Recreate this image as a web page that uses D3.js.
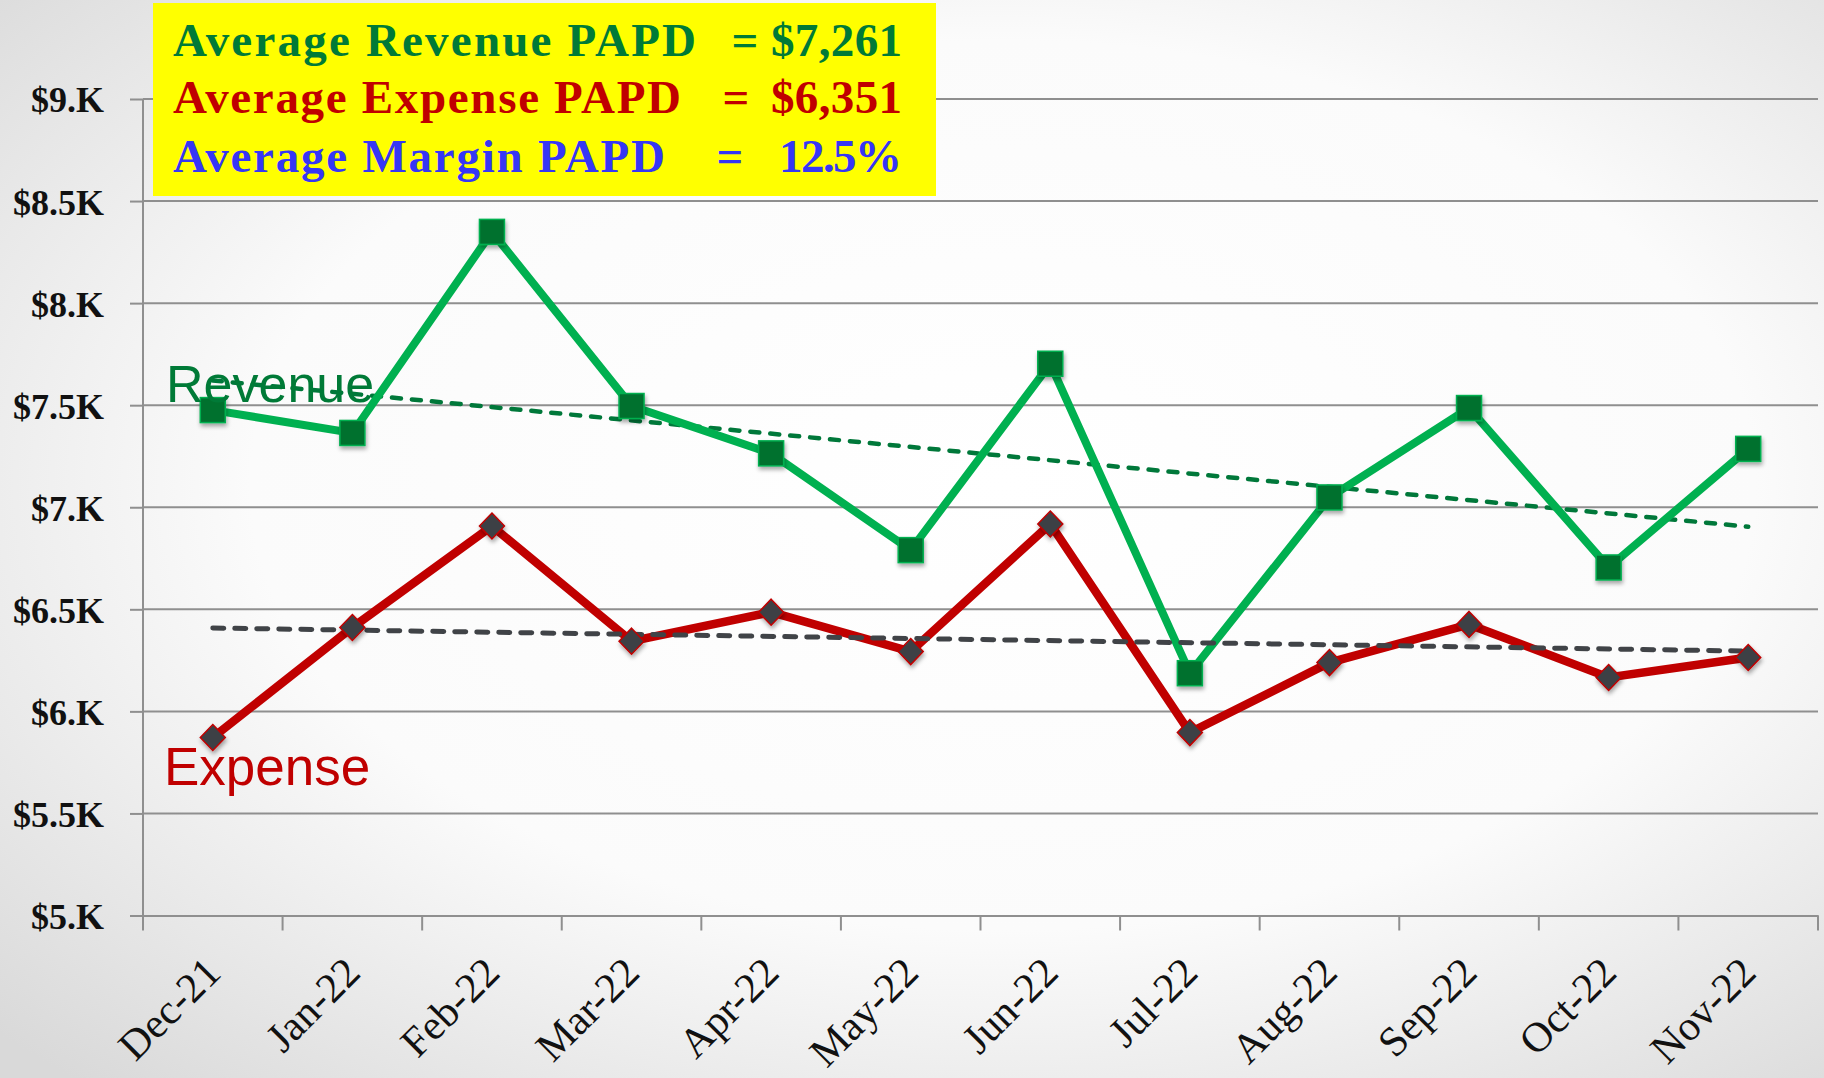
<!DOCTYPE html>
<html><head><meta charset="utf-8">
<script src="https://cdn.jsdelivr.net/npm/d3@7"></script>
<style>html,body{margin:0;padding:0;overflow:hidden;background:#fff}</style>
</head><body>
<svg id="chart" width="1824" height="1078"></svg>
<script>
const months = ["Dec-21","Jan-22","Feb-22","Mar-22","Apr-22","May-22","Jun-22","Jul-22","Aug-22","Sep-22","Oct-22","Nov-22"];
const revenue = [7476, 7364, 8349, 7496, 7264, 6790, 7703, 6187, 7048, 7486, 6705, 7286];
const expense = [5872, 6411, 6908, 6344, 6486, 6293, 6918, 5896, 6239, 6426, 6166, 6264];
const yTickValues = [5000, 5500, 6000, 6500, 7000, 7500, 8000, 8500, 9000];
const yTickLabels = ["$5.K","$5.5K","$6.K","$6.5K","$7.K","$7.5K","$8.K","$8.5K","$9.K"];
const summaryLabels = ["Average Revenue PAPD", "Average Expense PAPD", "Average Margin PAPD"];
const summaryValues = ["$7,261", "$6,351", "12.5%"];
const seriesNames = ["Revenue", "Expense"];

const svg = d3.select("#chart");
const W = 1824, H = 1078;
const defs = svg.append("defs");
const rg = defs.append("radialGradient").attr("id","bg").attr("cx","55%").attr("cy","45%").attr("r","75%");
rg.append("stop").attr("offset","0").attr("stop-color","#ffffff");
rg.append("stop").attr("offset","0.55").attr("stop-color","#fbfbfb");
rg.append("stop").attr("offset","1").attr("stop-color","#d9d9d9");
const f = defs.append("filter").attr("id","sh").attr("x","-50%").attr("y","-50%").attr("width","200%").attr("height","200%");
f.append("feDropShadow").attr("dx",1).attr("dy",3).attr("stdDeviation",2).attr("flood-color","#000").attr("flood-opacity",0.35);

svg.append("rect").attr("width",W).attr("height",H).attr("fill","url(#bg)");

const x = d3.scaleBand().domain(months).range([143, 1818]);
const y = d3.scaleLinear().domain([5000, 9000]).range([915.5, 99]);
const cx = d => x(d) + x.bandwidth()/2;

// gridlines
svg.append("g").selectAll("line").data(yTickValues.slice(1)).join("line")
  .attr("x1",143).attr("x2",1818).attr("y1",d=>y(d)).attr("y2",d=>y(d))
  .attr("stroke","#8f8f8f").attr("stroke-width",2);

// y axis
const yAxis = d3.axisLeft(y).tickValues(yTickValues).tickSize(13)
  .tickFormat((d,i)=>yTickLabels[i]);
const gy = svg.append("g").attr("transform","translate(143,0)").call(yAxis);
gy.select(".domain").attr("stroke","#8f8f8f").attr("stroke-width",2).attr("d","M0,99V920");
gy.selectAll(".tick line").attr("stroke","#8f8f8f").attr("stroke-width",2);
gy.selectAll(".tick text").attr("x",-39).attr("dy","0.36em")
  .attr("font-family","'Liberation Serif', serif").attr("font-weight","bold").attr("font-size",36).attr("fill","#111");

// x axis
const xAxis = d3.axisBottom(x).tickSize(0).tickFormat("");
const gx = svg.append("g").attr("transform","translate(0,915.5)").call(xAxis);
gx.select(".domain").attr("stroke","#8f8f8f").attr("stroke-width",2);
gx.selectAll(".tick").remove();
const edges = months.map(m=>x(m)).concat([x(months[months.length-1])+x.bandwidth()]);
gx.selectAll("line.edge").data(edges).join("line").attr("class","edge")
  .attr("x1",d=>d).attr("x2",d=>d).attr("y1",0).attr("y2",15)
  .attr("stroke","#8f8f8f").attr("stroke-width",2);
svg.append("g").selectAll("text").data(months).join("text")
  .attr("transform",d=>`translate(${cx(d)+10},975) rotate(-45)`)
  .attr("text-anchor","end")
  .attr("font-family","'Liberation Serif', serif").attr("font-size",42).attr("fill","#111")
  .text(d=>d);

// trendlines (least squares fit of each series)
function fit(vals){
  const n = vals.length, xs = d3.range(n);
  const mx = d3.mean(xs), my = d3.mean(vals);
  const b = d3.sum(xs, i => (i-mx)*(vals[i]-my)) / d3.sum(xs, i => (i-mx)*(i-mx));
  return [my - b*mx, my + b*((n-1)-mx)];
}
const line = d3.line().x(d=>cx(d.m)).y(d=>y(d.v));
const rt = fit(revenue), et = fit(expense);
const last = months[months.length-1];
svg.append("path").datum([{m:months[0],v:rt[0]},{m:last,v:rt[1]}]).attr("d",line)
  .attr("fill","none").attr("stroke","#00783a").attr("stroke-width",4.5)
  .attr("stroke-dasharray","9 11").attr("stroke-linecap","round");

// series lines
svg.append("path").datum(months.map((m,i)=>({m,v:expense[i]}))).attr("d",line)
  .attr("fill","none").attr("stroke","#c00000").attr("stroke-width",8.5).attr("stroke-linejoin","miter");
svg.append("path").datum(months.map((m,i)=>({m,v:revenue[i]}))).attr("d",line)
  .attr("fill","none").attr("stroke","#00b050").attr("stroke-width",8).attr("stroke-linejoin","miter");

svg.append("path").datum([{m:months[0],v:et[0]},{m:last,v:et[1]}]).attr("d",line)
  .attr("fill","none").attr("stroke","#404347").attr("stroke-width",5)
  .attr("stroke-dasharray","11 11").attr("stroke-linecap","round");

// markers
svg.append("g").selectAll("path").data(months).join("path")
  .attr("d","M0,-13L12.5,0L0,13L-12.5,0Z")
  .attr("transform",(d,i)=>`translate(${cx(d)},${y(expense[i])})`)
  .attr("fill","#3d4145").attr("stroke","#c00000").attr("stroke-width",1.5)
  .attr("filter","url(#sh)");
svg.append("g").selectAll("rect").data(months).join("rect")
  .attr("x",d=>cx(d)-12.5).attr("y",(d,i)=>y(revenue[i])-12.5).attr("width",25).attr("height",25)
  .attr("fill","#00712f").attr("stroke","#00b050").attr("stroke-width",1.5)
  .attr("filter","url(#sh)");

// series labels
svg.append("text").attr("x",166).attr("y",402).attr("font-family","'Liberation Sans', Arial, sans-serif")
  .attr("font-size",52).attr("fill","#007a37").text(seriesNames[0]);
svg.append("text").attr("x",164).attr("y",785).attr("font-family","'Liberation Sans', Arial, sans-serif")
  .attr("font-size",53).attr("fill","#c00000").text(seriesNames[1]);

// summary box
svg.append("rect").attr("x",153).attr("y",3).attr("width",783).attr("height",193).attr("fill","#ffff00");
const colors = ["#007a37","#c00000","#3636f5"];
const baselines = [56, 113, 172];
const leftWidths = [523, 508, 492];
const eqX = [745, 736, 730];
const valW = [131, 131, 123];
const sg = svg.append("g").attr("font-family","'Liberation Serif', serif").attr("font-weight","bold").attr("font-size",47);
summaryLabels.forEach((t,i)=>{
  sg.append("text").attr("x",173).attr("y",baselines[i]).attr("fill",colors[i])
    .attr("textLength",leftWidths[i]).attr("lengthAdjust","spacing").text(t);
  sg.append("text").attr("x",eqX[i]).attr("y",baselines[i]).attr("fill",colors[i])
    .attr("text-anchor","middle").text("=");
  sg.append("text").attr("x",902-valW[i]).attr("y",baselines[i]).attr("fill",colors[i])
    .attr("textLength",valW[i]).attr("lengthAdjust","spacing").text(summaryValues[i]);
});
</script>
</body></html>
